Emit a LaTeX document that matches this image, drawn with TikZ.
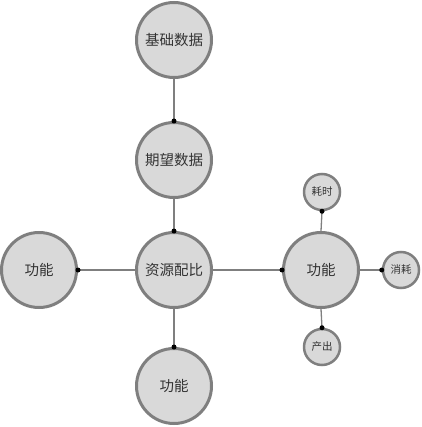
\documentclass[tikz,border=0pt]{standalone}
\usepackage{fontspec}
\newfontfamily\cjk{Noto Sans CJK SC}
\definecolor{fillg}{HTML}{D9D9D9}
\definecolor{edgeg}{HTML}{7F7F7F}
\definecolor{txt}{HTML}{333333}
\tikzset{
  big/.style={circle, draw=edgeg, fill=fillg, line width=3pt, minimum size=75pt, inner sep=0pt, font=\cjk\fontsize{14.5}{16}\selectfont, text=txt},
  small/.style={circle, draw=edgeg, fill=fillg, line width=2.5pt, minimum size=36pt, inner sep=0pt, font=\cjk\fontsize{10.5}{12}\selectfont, text=txt},
  link/.style={draw=edgeg, line width=1.3pt},
  tipdot/.style={circle, fill=black, inner sep=0pt, minimum size=5pt}
}
\begin{document}
\begin{tikzpicture}[x=1pt,y=-1pt]
\useasboundingbox (0,0) rectangle (421,427);
\node[big] (jc) at (174,40) {基础数据};
\node[big] (qw) at (174,160) {期望数据};
\node[big] (zy) at (174,270) {资源配比};
\node[big] (gl) at (39,270) {功能};
\node[big] (gb) at (174,386) {功能};
\node[big] (gr) at (321,270) {功能};
\node[small] (hs) at (322,192) {耗时};
\node[small] (xh) at (401,270) {消耗};
\node[small] (cc) at (322,347) {产出};
\draw[link] (jc.south) -- (qw.north) coordinate (d1);
\draw[link] (qw.south) -- (zy.north) coordinate (d2);
\draw[link] (zy.west) -- (gl.east) coordinate (d3);
\draw[link] (zy.south) -- (gb.north) coordinate (d4);
\draw[link] (zy.east) -- (gr.west) coordinate (d5);
\draw[link] (gr.north) -- (hs.south) coordinate (d6);
\draw[link] (gr.east) -- (xh.west) coordinate (d7);
\draw[link] (gr.south) -- (cc.north) coordinate (d8);
\foreach \d in {d1,d2,d3,d4,d5,d6,d7,d8} \node[tipdot] at (\d) {};
\end{tikzpicture}
\end{document}
